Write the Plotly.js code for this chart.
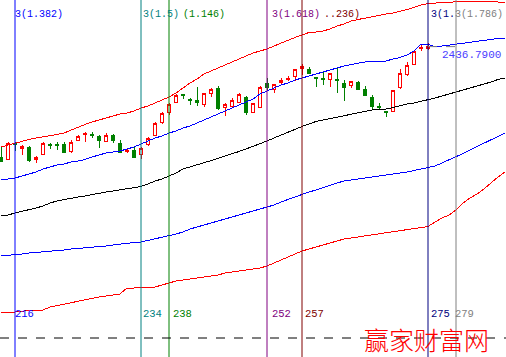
<!DOCTYPE html>
<html><head><meta charset="utf-8">
<script src="https://cdn.plot.ly/plotly-3.0.1.min.js"></script>
<style>html,body{margin:0;padding:0;background:#fff;}#chart{width:506px;height:357px;}#chart .scatterlayer path,#chart .boxlayer path{shape-rendering:crispEdges;}</style>
</head><body><div id="chart"></div>
<script>
// Candle bar index
var barIdx = [214,215,216,217,218,219,220,221,222,223,224,225,226,227,228,229,230,231,232,233,234,235,236,237,238,239,240,241,242,243,244,245,246,247,248,249,250,251,252,253,254,255,256,257,258,259,260,261,262,263,264,265,266,267,268,269,270,271,272,273,274,275];
var openP  = [2216,2212,2244,2234,2236,2212,2222,2242,2242,2242,2228,2250,2262,2262,2258,2248,2260,2244,2228,2230,2222,2242,2260,2286,2306,2326,2342,2332,2330,2322,2344,2354,2316,2318,2326,2336,2306,2316,2364,2352,2366,2372,2378,2394,2392,2376,2374,2372,2372,2364,2360,2366,2352,2336,2318,2308,2308,2356,2382,2402,2433,2434];
var highP  = [2236,2246,2246,2240,2238,2218,2246,2244,2246,2246,2250,2260,2266,2266,2260,2264,2262,2250,2234,2236,2236,2256,2286,2306,2324,2342,2342,2334,2356,2344,2354,2358,2324,2334,2344,2338,2324,2358,2374,2362,2374,2378,2392,2402,2396,2376,2388,2384,2394,2370,2368,2368,2358,2340,2324,2308,2350,2392,2406,2428,2440,2444];
var lowP   = [2206,2212,2228,2220,2206,2204,2220,2232,2230,2224,2224,2248,2246,2254,2234,2246,2244,2226,2224,2216,2212,2238,2258,2282,2300,2324,2332,2320,2318,2316,2336,2310,2298,2314,2324,2300,2304,2316,2350,2344,2360,2368,2368,2380,2382,2356,2360,2356,2344,2328,2354,2352,2340,2312,2310,2296,2308,2352,2378,2400,2428,2430];
var closeP = [2208,2244,2242,2238,2210,2216,2244,2240,2240,2226,2246,2258,2264,2260,2250,2260,2250,2226,2230,2216,2234,2254,2284,2304,2322,2340,2340,2330,2326,2344,2352,2314,2322,2330,2342,2306,2324,2356,2356,2362,2370,2374,2392,2398,2384,2374,2372,2384,2370,2356,2368,2352,2340,2318,2316,2306,2350,2384,2400,2428,2435,2436.79];

// Band index (extends beyond the last bar)
var bandIdx = [214,215,216,217,218,219,220,221,222,223,224,225,226,227,228,229,230,231,232,233,234,235,236,237,238,239,240,241,242,243,244,245,246,247,248,249,250,251,252,253,254,255,256,257,258,259,260,261,262,263,264,265,266,267,268,269,270,271,272,273,274,275,276,277,278,279,280,281,282,283,284,285,286];
var upperRed  = [2236,2240,2244,2248,2251,2254,2256,2258,2261,2264,2270,2276,2281,2286,2290,2293,2298,2302,2304,2308,2314,2318,2324,2330,2336,2344,2354,2364,2372,2382,2388,2394,2400,2406,2412,2418,2424,2428,2432,2438,2444,2450,2455,2460,2465,2466,2468,2472,2478,2482,2488,2491,2494,2497,2500,2502,2504,2507,2511,2515,2520,2523,2524,2525,2526,2526,2527,2528,2528,2528,2527,2526,2526];
var upperBlue = [2170,2172,2174,2178,2182,2186,2192,2196,2200,2202,2206,2208,2211,2216,2220,2224,2226,2228,2232,2236,2242,2248,2254,2258,2264,2268,2274,2278,2284,2290,2296,2302,2308,2314,2320,2326,2332,2342,2348,2354,2360,2364,2370,2374,2378,2382,2386,2390,2395,2398,2401,2404,2406,2407,2408,2408,2412,2415,2420,2428,2442,2442,2436,2438,2440,2442,2444,2446,2448,2450,2451,2453,2454];
var midLine   = [2098,2100,2104,2107,2110,2114,2118,2124,2128,2131,2134,2136,2138,2141,2144,2146,2148,2150,2152,2154,2157,2162,2168,2172,2178,2184,2192,2196,2200,2204,2208,2213,2218,2222,2227,2232,2237,2242,2248,2254,2260,2266,2272,2277,2282,2287,2290,2293,2296,2299,2302,2304,2307,2310,2311,2312,2315,2319,2322,2324,2327,2330,2334,2338,2342,2346,2350,2353,2357,2362,2366,2371,2374];
var lowerBlue = [2018,2019,2020,2022,2024,2025,2026,2028,2029,2030,2032,2033,2034,2035,2036,2038,2040,2042,2044,2045,2046,2049,2052,2055,2058,2062,2066,2072,2076,2080,2084,2088,2092,2096,2100,2104,2108,2112,2116,2120,2126,2131,2136,2142,2146,2150,2155,2160,2164,2168,2170,2172,2174,2176,2178,2180,2182,2183,2186,2189,2192,2194,2198,2204,2210,2216,2223,2230,2237,2244,2250,2258,2264];
var lowerRed  = [1906,1904,1906,1908,1909,1910,1910,1916,1919,1921,1924,1928,1931,1933,1936,1938,1940,1942,1954,1954,1956,1956,1956,1960,1964,1968,1970,1972,1974,1976,1978,1980,1984,1986,1989,1991,1992,1994,1998,2004,2010,2016,2022,2028,2032,2036,2040,2044,2048,2052,2054,2056,2058,2060,2062,2064,2066,2068,2070,2072,2074,2077,2086,2094,2100,2110,2124,2134,2142,2152,2164,2176,2186];

// Fibonacci time lines
var fibIdx    = [216, 234, 238, 252, 257, 275, 279];
var fibColors = ['#0000ff', '#008080', '#008000', '#800080', '#800000', '#000080', '#808080'];
var fibTop    = ['3(1.382)', '3(1.5)', '(1.146)', '3(1.618)', '..236)', '3(1.', '3(1.786)'];
var fibTopShift = [-1, 1, 13, 4, 21, 2, -2];
var fibBottom = ['216', '234', '238', '252', '257', '275', '279'];
var fibBottomShift = [-1, 1, 3, 4, 2, 2, -2];

var lastClose = 2436.79;
var lastLabel = '2436.7900';
var sepLevel = 1854;
var watermark = '赢家财富网';

var traces = [];
function band(y, color) {
  return {type: 'scatter', mode: 'lines', x: bandIdx, y: y, line: {color: color, width: 1}, hoverinfo: 'skip', showlegend: false};
}
traces.push(band(upperRed, '#ff0000'));
traces.push(band(upperBlue, '#0000ff'));
traces.push(band(midLine, '#000000'));
traces.push(band(lowerBlue, '#0000ff'));
traces.push(band(lowerRed, '#ff0000'));
traces.push({
  type: 'candlestick', x: barIdx, open: openP, high: highP, low: lowP, close: closeP,
  increasing: {line: {color: '#ff0000', width: 1}, fillcolor: '#ffffff'},
  decreasing: {line: {color: '#008000', width: 1}, fillcolor: '#008000'},
  whiskerwidth: 0, hoverinfo: 'skip', showlegend: false
});

var shapes = [];
var annotations = [];
for (var k = 0; k < fibIdx.length; k++) {
  shapes.push({type: 'line', xref: 'x', yref: 'paper', x0: fibIdx[k], x1: fibIdx[k], y0: 0, y1: 1,
               line: {color: fibColors[k], width: 1}, layer: 'above'});
  annotations.push({xref: 'x', yref: 'paper', x: fibIdx[k], y: 1 - 15/357, text: fibTop[k], showarrow: false,
               xanchor: 'left', yanchor: 'middle', xshift: fibTopShift[k], borderpad: 0,
               font: {family: 'Liberation Mono, DejaVu Sans Mono, monospace', size: 10, color: fibColors[k]}});
  annotations.push({xref: 'x', yref: 'paper', x: fibIdx[k], y: 1 - 314/357, text: fibBottom[k], showarrow: false,
               xanchor: 'left', yanchor: 'middle', xshift: fibBottomShift[k], borderpad: 0,
               font: {family: 'Liberation Mono, DejaVu Sans Mono, monospace', size: 10.5, color: fibColors[k]}});
}
// separator dashed line
shapes.push({type: 'line', xref: 'paper', yref: 'y', x0: 0, x1: 1, y0: sepLevel, y1: sepLevel,
             line: {color: '#000000', width: 1, dash: 'dash'}, layer: 'above'});
// last close guide
shapes.push({type: 'line', xref: 'x', yref: 'y', x0: fibIdx[5], x1: fibIdx[6], y0: lastClose, y1: lastClose,
             line: {color: '#808080', width: 1, dash: 'dash'}, layer: 'above'});
annotations.push({xref: 'x', yref: 'y', x: fibIdx[5], y: lastClose, text: lastLabel, showarrow: false,
             xanchor: 'left', yanchor: 'middle', xshift: 13, yshift: -8, borderpad: 0,
             font: {family: 'Liberation Mono, DejaVu Sans Mono, monospace', size: 11, color: '#4a3cff'}});
annotations.push({xref: 'paper', yref: 'paper', x: 426/506, y: 1 - 339/357, text: watermark, showarrow: false,
             xanchor: 'center', yanchor: 'middle', borderpad: 0,
             font: {family: 'Noto Sans CJK SC, sans-serif', size: 25, color: '#ff0000', weight: 300}});

var layout = {
  width: 506, height: 357,
  margin: {l: 0, r: 0, t: 0, b: 0},
  paper_bgcolor: '#ffffff', plot_bgcolor: '#ffffff',
  showlegend: false,
  xaxis: {range: [213.857, 286.143], visible: false, rangeslider: {visible: false}, fixedrange: true},
  yaxis: {range: [1816, 2530], visible: false, fixedrange: true},
  shapes: shapes,
  annotations: annotations
};
Plotly.newPlot('chart', traces, layout, {displayModeBar: false, staticPlot: true});
</script>
</body></html>
